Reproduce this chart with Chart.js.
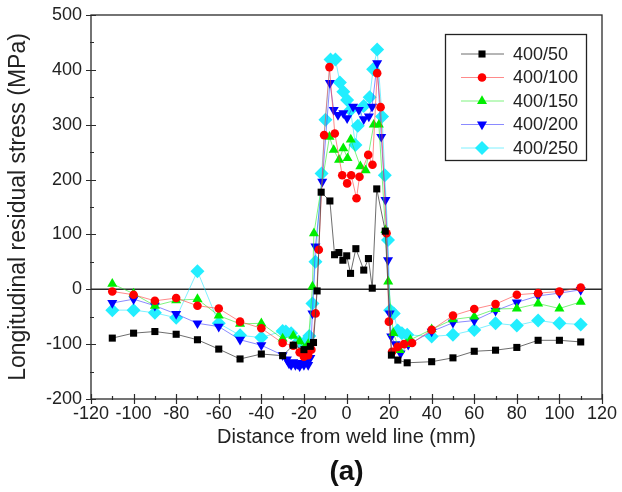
<!DOCTYPE html>
<html>
<head>
<meta charset="utf-8">
<script src="https://cdn.jsdelivr.net/npm/chart.js@4/dist/chart.umd.min.js"></script>
<style>
  html, body { margin: 0; padding: 0; background: #fff; }
  #wrap { width: 622px; height: 492px; }
</style>
</head>
<body>
<div id="wrap"><canvas id="c" width="622" height="492"></canvas></div>
<script>
// Longitudinal residual stress across the weld, five welding parameter sets.
const seriesNames = ['400/50', '400/100', '400/150', '400/200', '400/250'];

const x50 = [-110,-100,-90,-80,-70,-60,-50,-40,-30,-25,-20,-17,-15.5,-13.8,-11.9,-7.8,-5.6,-3.6,-1.7,0.1,1.9,4.4,8.1,10.3,12.1,14.2,18.2,21.1,24.1,28.5,40,50,60,70,80,90,100,110];
const y50 = [-89,-80,-77,-82,-92,-109,-127,-118,-121,-102,-110,-104,-97,-3,177,161,63,67,53,61,29,74,35,56,2,183,106,-120,-129,-134,-132,-125,-113,-111,-106,-93,-93,-96];

const x100 = [-110,-100,-90,-80,-70,-60,-50,-40,-30,-25,-22,-20,-18,-16.5,-14.5,-13,-10.5,-8,-5.5,-2,0.3,2.2,4.7,6.1,10.2,12.2,14.4,16,18.8,19.9,21.4,24,27,30.8,40,50,60,70,80,90,100,110];
const y100 = [-4,-10,-21,-16,-30,-35,-59,-71,-98,-103,-115,-123,-120,-110,-44,72,281,405,284,208,193,208,166,205,245,227,394,332,102,-59,-114,-105,-100,-98,-74,-48,-36,-27,-10,-7,-4,3];

const x150 = [-110,-100,-90,-80,-70,-60,-50,-40,-30,-25,-22,-20,-18,-16,-15.3,-8,-6,-3.5,-1.5,0.5,2,6.5,9,12.8,15.2,18.3,19.6,22,25,28,30,40,50,60,70,80,90,100,110];
const y150 = [10,-8,-30,-20,-18,-48,-63,-62,-90,-85,-95,-108,-100,5,102,278,254,236,257,239,273,224,217,300,300,108,14,-80,-111,-100,-92,-73,-55,-50,-36,-35,-26,-35,-23];

const x200 = [-110,-100,-90,-80,-70,-60,-50,-40,-30,-28,-27,-26,-25,-24,-23,-22,-21,-20,-19,-18,-17,-16,-14.6,-11.4,-7.8,-6,-4,-1.5,0.3,3.1,5.8,8.1,10.5,12,14.4,16.3,18.3,19.5,20.3,21,23,25.4,29,40,50,60,70,80,90,100,110];
const y200 = [-25,-18,-30,-45,-62,-68,-92,-102,-120,-128,-135,-138,-133,-138,-136,-140,-134,-138,-132,-138,-125,-44,78,196,376,327,318,321,312,333,327,310,315,333,412,278,163,53,-44,-86,-100,-117,-101,-77,-61,-57,-39,-24,-12,-7,-1];

const x250 = [-110,-100,-90,-80,-70,-60,-50,-40,-30,-28.5,-26,-22.5,-20,-17.5,-16,-14.6,-11.7,-9.9,-7.5,-5.2,-3.1,-1.5,0.3,1.9,4.2,5.3,8.1,10.9,12.5,14.4,16.7,18,19.5,20.5,22.2,24,26,28.5,40,50,60,70,80,90,100,110];
const y250 = [-38,-38,-43,-52,33,-62,-84,-88,-76,-77,-80,-95,-98,-85,-26,50,211,309,419,419,377,360,345,327,263,298,334,350,401,437,315,208,90,-38,-44,-75,-80,-83,-86,-83,-74,-62,-66,-57,-62,-64];

const xTickValues = [-120,-100,-80,-60,-40,-20,0,20,40,60,80,100,120];
const yTickValues = [-200,-100,0,100,200,300,400,500];

const FONT = "'Liberation Sans', Arial, Helvetica, sans-serif";

function pts(xs, ys) { return xs.map((x, i) => ({ x: x, y: ys[i] })); }

function makeSet(label, xs, ys, marker, line, style, radius, rotation) {
  return {
    label: label,
    data: pts(xs, ys),
    showLine: true,
    borderColor: line,
    borderWidth: 1,
    backgroundColor: marker,
    pointBackgroundColor: marker,
    pointBorderWidth: 0,
    pointStyle: style,
    pointRadius: radius,
    pointRotation: rotation || 0,
    pointHoverRadius: radius,
    tension: 0
  };
}

const datasets = [
  makeSet(seriesNames[0], x50, y50, '#000000', 'rgba(60,60,60,0.75)', 'rect', 5),
  makeSet(seriesNames[1], x100, y100, '#ff0000', 'rgba(255,60,60,0.6)', 'circle', 4.3),
  makeSet(seriesNames[2], x150, y150, '#00ee00', 'rgba(40,235,40,0.6)', 'triangle', 5.8),
  makeSet(seriesNames[3], x200, y200, '#0000ff', 'rgba(60,60,255,0.6)', 'triangle', 5.8, 180),
  makeSet(seriesNames[4], x250, y250, '#22eeff', 'rgba(40,230,255,0.6)', 'rectRot', 7)
];

// Frame, zero line and in/out ticks on the left and bottom axes.
const framePlugin = {
  id: 'frame',
  beforeDatasetsDraw(chart) {
    const { ctx, chartArea: a, scales: { x, y } } = chart;
    ctx.save();
    ctx.strokeStyle = '#2a2a2a';
    ctx.lineWidth = 1.3;
    ctx.strokeRect(a.left, a.top, a.right - a.left, a.bottom - a.top);
    // zero reference line
    const y0 = y.getPixelForValue(0);
    ctx.lineWidth = 1.6;
    ctx.beginPath();
    ctx.moveTo(a.left, y0);
    ctx.lineTo(a.right, y0);
    ctx.stroke();
    ctx.lineWidth = 1.2;
    ctx.beginPath();
    for (let v = -200; v <= 500; v += 50) {
      const py = Math.round(y.getPixelForValue(v)) + 0.5;
      const major = v % 100 === 0;
      ctx.moveTo(a.left - (major ? 5 : 1), py);
      ctx.lineTo(a.left + (major ? 5 : 3), py);
    }
    for (let v = -120; v <= 120; v += 10) {
      const px = Math.round(x.getPixelForValue(v)) + 0.5;
      const major = v % 20 === 0;
      ctx.moveTo(px, a.bottom + (major ? 5 : 1));
      ctx.lineTo(px, a.bottom - (major ? 5 : 3));
    }
    ctx.stroke();
    ctx.restore();
  }
};

// Boxed legend inside the upper-right of the plot.
const boxLegendPlugin = {
  id: 'boxLegend',
  afterDatasetsDraw(chart) {
    const { ctx, chartArea: a } = chart;
    const left = a.right - 157, top = a.top + 19, w = 141, h = 126;
    ctx.save();
    ctx.fillStyle = '#fff';
    ctx.fillRect(left, top, w, h);
    ctx.strokeStyle = '#222';
    ctx.lineWidth = 1.3;
    ctx.strokeRect(left + 0.5, top + 0.5, w, h);
    chart.data.datasets.forEach((ds, i) => {
      const cy = top + 20 + i * 23.5;
      ctx.strokeStyle = ds.borderColor;
      ctx.lineWidth = 1;
      ctx.beginPath();
      ctx.moveTo(left + 16, cy);
      ctx.lineTo(left + 59, cy);
      ctx.stroke();
      ctx.fillStyle = ds.pointBackgroundColor;
      Chart.helpers.drawPoint(ctx, {
        pointStyle: ds.pointStyle,
        radius: ds.pointRadius,
        rotation: ds.pointRotation,
        borderWidth: 0
      }, left + 37, cy);
      ctx.fillStyle = '#222';
      ctx.font = '18px ' + FONT;
      ctx.textBaseline = 'middle';
      ctx.textAlign = 'left';
      ctx.fillText(ds.label, left + 68, cy + 1);
    });
    ctx.restore();
  }
};

new Chart(document.getElementById('c'), {
  type: 'scatter',
  data: { datasets: datasets },
  plugins: [framePlugin, boxLegendPlugin],
  options: {
    responsive: false,
    animation: false,
    events: [],
    layout: { padding: { left: 0, right: 20, top: 15, bottom: 0 } },
    plugins: {
      legend: { display: false },
      tooltip: { enabled: false },
      title: {
        display: true,
        fullSize: false,
        text: '(a)',
        position: 'bottom',
        color: '#111',
        font: { family: FONT, size: 28, weight: 'bold' },
        padding: { top: 0, bottom: 3 }
      }
    },
    scales: {
      x: {
        type: 'linear',
        min: -120, max: 120,
        afterBuildTicks: (s) => { s.ticks = xTickValues.map(v => ({ value: v })); },
        afterFit: (s) => { s.height = 56.4; s.paddingLeft = 0; s.paddingRight = 0; },
        grid: { display: false, drawTicks: false },
        border: { display: false },
        ticks: { color: '#222', padding: 4, maxRotation: 0, autoSkip: false, font: { family: FONT, size: 18 } },
        title: {
          display: true,
          text: 'Distance from weld line (mm)',
          color: '#222',
          font: { family: FONT, size: 20 },
          padding: { top: 0, bottom: 6 }
        }
      },
      y: {
        type: 'linear',
        min: -200, max: 500,
        afterBuildTicks: (s) => { s.ticks = yTickValues.map(v => ({ value: v })); },
        afterFit: (s) => { s.width = 91; s.paddingTop = 0; s.paddingBottom = 0; },
        grid: { display: false, drawTicks: false },
        border: { display: false },
        ticks: { color: '#222', padding: 9, autoSkip: false, font: { family: FONT, size: 18 } },
        title: {
          display: true,
          text: 'Longitudinal residual stress (MPa)',
          color: '#222',
          font: { family: FONT, size: 23 },
          padding: { top: 5, bottom: 0 }
        }
      }
    }
  }
});
</script>
</body>
</html>
